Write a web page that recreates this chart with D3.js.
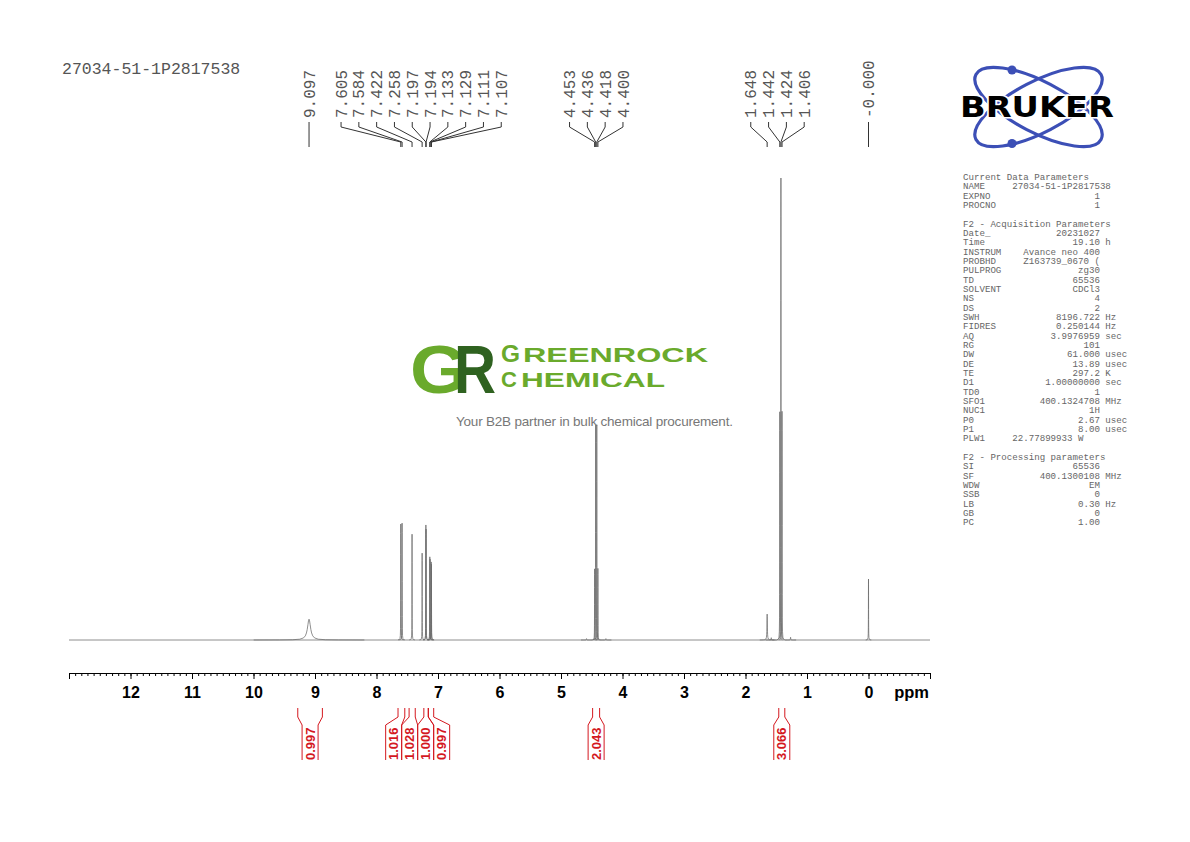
<!DOCTYPE html>
<html>
<head>
<meta charset="utf-8">
<script src="https://cdnjs.cloudflare.com/ajax/libs/d3/7.8.5/d3.min.js"></script>
<style>
body { margin: 0; background: #fff; }
svg { display: block; }
</style>
</head>
<body>
<svg id="chart" width="1190" height="842"></svg>
<script>
// values
var sampleName = "27034-51-1P2817538";

var peakPpm    = [9.097, 7.605, 7.584, 7.422, 7.258, 7.197, 7.194, 7.133, 7.129, 7.111, 7.107,
                  4.453, 4.436, 4.418, 4.400, 1.648, 1.442, 1.424, 1.406, 0.000];
var peakHeight = [4.5, 25.1, 25.3, 22.9, 18.8, 24.9, 24.0, 18.0, 17.5, 16.9, 16.4,
                  15.4, 46.5, 46.6, 15.5, 5.6, 49.4, 100, 49.5, 13.2];
var peakWidth  = [0.03, 0.0015, 0.0015, 0.0015, 0.0015, 0.0015, 0.0015, 0.0015, 0.0015, 0.0015, 0.0015,
                  0.0015, 0.0015, 0.0015, 0.0015, 0.004, 0.0015, 0.0015, 0.0015, 0.0015];
var peakLabels = ["9.097", "7.605", "7.584", "7.422", "7.258", "7.197", "7.194", "7.133", "7.129", "7.111", "7.107",
                  "4.453", "4.436", "4.418", "4.400", "1.648", "1.442", "1.424", "1.406", "-0.000"];

// small unlabelled bumps (13C satellites)
var satPpm    = [4.585, 4.270, 1.581, 1.267];
var satHeight = [0.3, 0.3, 0.5, 0.6];

var intFrom   = [9.28, 7.65, 7.47, 7.23, 7.155, 4.486, 1.459];
var intTo     = [8.88, 7.54, 7.37, 7.16, 7.07, 4.372, 1.361];
var intValues = ["0.997", "1.016", "1.028", "1.000", "0.997", "2.043", "3.066"];

var majorTicks = [13, 12, 11, 10, 9, 8, 7, 6, 5, 4, 3, 2, 1, 0, -1];
var tickLabels = ["", "12", "11", "10", "9", "8", "7", "6", "5", "4", "3", "2", "1", "0", ""];

var paramLines = [
  "Current Data Parameters",
  "NAME     27034-51-1P2817538",
  "EXPNO                   1",
  "PROCNO                  1",
  "",
  "F2 - Acquisition Parameters",
  "Date_            20231027",
  "Time                19.10 h",
  "INSTRUM    Avance neo 400",
  "PROBHD     Z163739_0670 (",
  "PULPROG              zg30",
  "TD                  65536",
  "SOLVENT             CDCl3",
  "NS                      4",
  "DS                      2",
  "SWH              8196.722 Hz",
  "FIDRES           0.250144 Hz",
  "AQ              3.9976959 sec",
  "RG                    101",
  "DW                 61.000 usec",
  "DE                  13.89 usec",
  "TE                  297.2 K",
  "D1             1.00000000 sec",
  "TD0                     1",
  "SFO1          400.1324708 MHz",
  "NUC1                   1H",
  "P0                   2.67 usec",
  "P1                   8.00 usec",
  "PLW1     22.77899933 W",
  "",
  "F2 - Processing parameters",
  "SI                  65536",
  "SF            400.1300108 MHz",
  "WDW                    EM",
  "SSB                     0",
  "LB                   0.30 Hz",
  "GB                      0",
  "PC                   1.00"
];

var svg = d3.select("#chart");
var mono = "'Liberation Mono', 'Courier New', monospace";
var sans = "'Liberation Sans', Arial, Helvetica, sans-serif";

var x = d3.scaleLinear().domain([13, -1]).range([69, 930]);
var y = d3.scaleLinear().domain([0, 100]).range([640, 178]);

var line = d3.line()
  .x(function (d) { return x(d[0]); })
  .y(function (d) { return y(d[1]); });

// lorentzian outline of one line, sampled in half-widths around its centre
var steps = [-30, -16, -9, -5, -3, -2, -1.4, -1, -0.6, -0.3, 0, 0.3, 0.6, 1, 1.4, 2, 3, 5, 9, 16, 30];
function peakPath(ppm, h, w) {
  return line(steps.map(function (s) { return [ppm + s * w, h / (1 + s * s)]; }));
}

// spreads label centres so they keep a fixed gap, grouping crowded ones
function spread(xs, gap) {
  var groups = xs.map(function (v, i) { return { sum: v, n: 1, idx: [i] }; });
  var merged = true;
  while (merged) {
    merged = false;
    for (var i = 0; i < groups.length - 1; i++) {
      var a = groups[i], b = groups[i + 1];
      if (a.sum / a.n + a.n * gap / 2 > b.sum / b.n - b.n * gap / 2) {
        groups.splice(i, 2, { sum: a.sum + b.sum, n: a.n + b.n, idx: a.idx.concat(b.idx) });
        merged = true;
        break;
      }
    }
  }
  var out = [];
  groups.forEach(function (g) {
    var c = g.sum / g.n;
    g.idx.forEach(function (id, j) { out[id] = c + (j - (g.n - 1) / 2) * gap; });
  });
  return out;
}

var peaks = peakPpm.map(function (p, i) {
  return { ppm: p, h: peakHeight[i], w: peakWidth[i], label: peakLabels[i] };
});

// title
svg.append("text")
  .attr("x", 62).attr("y", 74)
  .style("font-family", mono).style("font-size", "16.5px").style("fill", "#555")
  .text(sampleName);

// spectrum
var spec = svg.append("g").attr("fill", "none").attr("stroke", "#6a6a6a").attr("stroke-width", 0.75);
spec.append("path").attr("d", line([[13, 0], [-1, 0]]));
spec.selectAll("path.sat")
  .data(satPpm)
  .enter().append("path").attr("class", "sat")
  .attr("d", function (d, i) { return peakPath(d, satHeight[i], 0.003); });
spec.selectAll("path.peak")
  .data(peaks)
  .enter().append("path").attr("class", "peak")
  .attr("d", function (d) { return peakPath(d.ppm, d.h, d.w); });

// peak labels with leaders
var labelX = spread(peaks.map(function (d) { return x(d.ppm); }), 17.8);
var lab = svg.append("g");
lab.selectAll("path")
  .data(peaks)
  .enter().append("path")
  .attr("fill", "none").attr("stroke", "#333").attr("stroke-width", 1)
  .attr("d", function (d, i) {
    var lx = labelX[i], px = x(d.ppm);
    return "M" + lx + ",122L" + lx + ",127L" + px + ",142L" + px + ",147";
  });
lab.selectAll("text")
  .data(peaks)
  .enter().append("text")
  .attr("transform", function (d, i) { return "translate(" + labelX[i] + ",118) rotate(-90)"; })
  .attr("dy", "0.35em")
  .style("font-family", mono).style("font-size", "16px").style("fill", "#555")
  .text(function (d) { return d.label; });

// axis
var axisG = svg.append("g").attr("transform", "translate(0,673)");
var minorTicks = d3.range(130, -11, -1).map(function (d) { return d / 10; });
axisG.append("g")
  .call(d3.axisBottom(x).tickValues(minorTicks).tickSize(3).tickSizeOuter(0).tickFormat(""))
  .call(function (g) { g.select(".domain").remove(); });
axisG.append("g")
  .call(d3.axisBottom(x).tickValues(majorTicks).tickSize(6).tickSizeOuter(0)
    .tickFormat(function (d, i) { return tickLabels[i]; }))
  .call(function (g) {
    g.selectAll("text").attr("y", 25).attr("dy", 0)
      .style("font-family", sans).style("font-size", "16px").style("font-weight", "bold").style("fill", "#000");
  });
axisG.selectAll("line, path").attr("stroke", "#000");
svg.append("text")
  .attr("x", 929).attr("y", 698).attr("text-anchor", "end")
  .style("font-family", sans).style("font-size", "16.5px").style("font-weight", "bold")
  .text("ppm");

// integrals
var red = "#d4181f";
var intCentre = intFrom.map(function (f, i) { return (x(f) + x(intTo[i])) / 2; });
var intX = spread(intCentre, 16);
var integ = svg.append("g");
integ.selectAll("path")
  .data(intValues)
  .enter().append("path")
  .attr("fill", "none").attr("stroke", red).attr("stroke-width", 1)
  .attr("d", function (d, i) {
    var a = x(intFrom[i]), b = x(intTo[i]), l = intX[i] - 8, r = intX[i] + 8;
    return "M" + a + ",708L" + a + ",717L" + l + ",725L" + l + ",760" +
           "M" + b + ",708L" + b + ",717L" + r + ",725L" + r + ",760";
  });
integ.selectAll("text")
  .data(intValues)
  .enter().append("text")
  .attr("transform", function (d, i) { return "translate(" + intX[i] + ",760) rotate(-90)"; })
  .attr("dy", "0.35em")
  .style("font-family", sans).style("font-size", "13px").style("font-weight", "bold").style("fill", red)
  .text(function (d) { return d; });

// parameter block
svg.append("g").selectAll("text")
  .data(paramLines)
  .enter().append("text")
  .attr("x", 963).attr("y", function (d, i) { return 180 + i * 9.33; })
  .attr("xml:space", "preserve").style("white-space", "pre")
  .style("font-family", mono).style("font-size", "9.13px").style("fill", "#666")
  .text(function (d) { return d; });

// Bruker logo
var blue = "#3c4fb6";
var logo = svg.append("g");
[27.5, -27.5].forEach(function (a) {
  logo.append("ellipse")
    .attr("transform", "translate(1038.5,107) rotate(" + a + ")")
    .attr("rx", 70.5).attr("ry", 25.5)
    .attr("fill", "none").attr("stroke", blue).attr("stroke-width", 3.2);
});
logo.append("circle").attr("cx", 1012).attr("cy", 70).attr("r", 4.5).attr("fill", blue);
logo.append("circle").attr("cx", 1012).attr("cy", 143.5).attr("r", 4.5).attr("fill", blue);
logo.append("text")
  .attr("x", 960).attr("y", 117)
  .attr("textLength", 154).attr("lengthAdjust", "spacingAndGlyphs")
  .style("font-family", "'DejaVu Sans', sans-serif").style("font-size", "28px").style("font-weight", "bold")
  .style("fill", "#000").style("stroke", "#fff").style("stroke-width", 3).style("paint-order", "stroke")
  .text("BRUKER");

// Greenrock watermark (each block kept as one text element)
var green = "#6aaa2c", dark = "#2f6220";
var emblem = svg.append("text").style("font-family", sans).style("font-weight", "bold").style("font-size", "69px");
emblem.append("tspan").attr("x", 410).attr("y", 393).style("fill", green)
  .attr("textLength", 58).attr("lengthAdjust", "spacingAndGlyphs").text("G");
emblem.append("tspan").attr("x", 454).attr("y", 393).style("fill", dark)
  .attr("textLength", 42).attr("lengthAdjust", "spacingAndGlyphs").text("R");

var word = svg.append("text").style("font-family", sans).style("font-weight", "bold").style("fill", green);
word.append("tspan").attr("x", 501).attr("y", 362).style("font-size", "24.5px").text("G");
word.append("tspan").attr("x", 523).attr("y", 362).style("font-size", "19.5px")
  .attr("textLength", 185).attr("lengthAdjust", "spacingAndGlyphs").text("REENROCK");
word.append("tspan").attr("x", 501).attr("y", 387).style("font-size", "22px").text("C");
word.append("tspan").attr("x", 521).attr("y", 387).style("font-size", "19.5px")
  .attr("textLength", 144).attr("lengthAdjust", "spacingAndGlyphs").text("HEMICAL");

svg.append("text")
  .attr("x", 456).attr("y", 426)
  .attr("textLength", 277).attr("lengthAdjust", "spacing")
  .style("font-family", sans).style("font-size", "13.5px").style("fill", "#777")
  .text("Your B2B partner in bulk chemical procurement.");
</script>
</body>
</html>
